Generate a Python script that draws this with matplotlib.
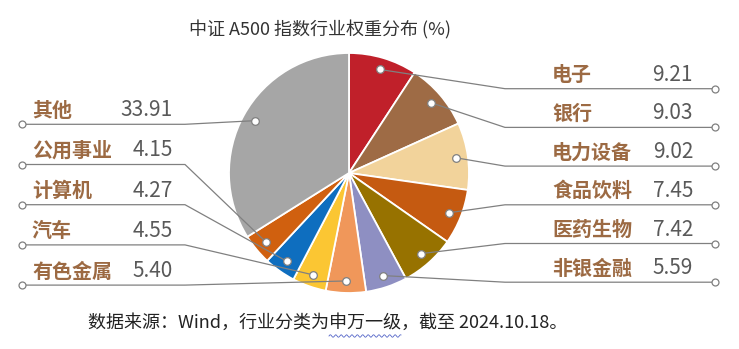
import matplotlib
matplotlib.use('Agg')
import matplotlib.pyplot as plt
import numpy as np

plt.rcParams['font.family'] = ['Noto Sans CJK SC', 'DejaVu Sans']

# 行业权重（%），从 12 点方向顺时针排列
industries = ['电子', '银行', '电力设备', '食品饮料', '医药生物', '非银金融',
              '有色金属', '汽车', '计算机', '公用事业', '其他']
weights = [9.21, 9.03, 9.02, 7.45, 7.42, 5.59, 5.40, 4.55, 4.27, 4.15, 33.91]
colors = ['#C0202A', '#9E6B45', '#F2D39B', '#C55A11', '#977200', '#8E8FC2',
          '#F0975A', '#FBC633', '#0E6EBF', '#D0600F', '#A6A6A6']

right_labels = ['电子', '银行', '电力设备', '食品饮料', '医药生物', '非银金融']
left_labels = ['其他', '公用事业', '计算机', '汽车', '有色金属']

title = '中证 A500 指数行业权重分布 (%)'
source = '数据来源：Wind，行业分类为申万一级，截至 2024.10.18。'

W, H = 739, 349
fig = plt.figure(figsize=(W / 100, H / 100), dpi=100)
ax = fig.add_axes([0, 0, 1, 1])

cx, cy, r = 349, H - 173, 120
wedges, _ = ax.pie(weights, colors=colors, startangle=90, counterclock=False,
                   center=(cx, cy), radius=r, frame=True,
                   wedgeprops=dict(edgecolor='white', linewidth=1.3))
ax.set_xlim(0, W)
ax.set_ylim(0, H)
ax.set_aspect('equal')
ax.axis('off')

line_c = '#808080'
name_c = '#9C6A43'
val_c = '#595959'


def draw_label(name, row_y, side):
    i = industries.index(name)
    w = wedges[i]
    a = np.deg2rad((w.theta1 + w.theta2) / 2)
    px, py = cx + 0.9 * r * np.cos(a), cy + 0.9 * r * np.sin(a)
    y = H - row_y
    if side == 'right':
        elbow, end, name_x, val_x = 505, 715, 552, 693
    else:
        elbow, end, name_x, val_x = 185, 22, 32, 173
    ax.plot([px, elbow, end], [py, y, y], color=line_c, lw=0.9, zorder=3)
    ax.plot(px, py, 'o', ms=5.5, mfc='white', mec=line_c, mew=0.9, zorder=4)
    ax.plot(end, y, 'o', ms=5, mfc='white', mec=line_c, mew=0.9, zorder=4)
    ax.text(name_x, y + 14, name, ha='left', va='center', fontsize=14.4,
            weight='bold', color=name_c)
    ax.text(val_x, y + 14, f'{weights[i]:.2f}', ha='right', va='center',
            fontsize=15, color=val_c)


for k, name in enumerate(right_labels):
    draw_label(name, 88.7 + k * 38.7, 'right')
for k, name in enumerate(left_labels):
    draw_label(name, 124.3 + k * 40.2, 'left')

ax.text(320, H - 30, title, ha='center', va='center', fontsize=13, color='#333333')
foot = ax.text(88, H - 323, source, ha='left', va='center', fontsize=13, color='#222222')

# 申万一级 下方的波浪下划线
fig.canvas.draw()
rend = fig.canvas.get_renderer()
pre = ax.text(88, H - 323, '数据来源：Wind，行业分类为', ha='left', va='center', fontsize=13)
seg = ax.text(88, H - 323, '申万一级', ha='left', va='center', fontsize=13)
x0 = 88 + pre.get_window_extent(rend).width
x1 = x0 + seg.get_window_extent(rend).width
pre.remove()
seg.remove()
xs = np.linspace(x0, x1, 200)
ax.plot(xs, H - 336 + 1.2 * np.sin((xs - x0) / 4.5 * 2 * np.pi / 1.2),
        color='#5566C8', lw=0.6)

fig.savefig('out.png', dpi=100, facecolor='white')
